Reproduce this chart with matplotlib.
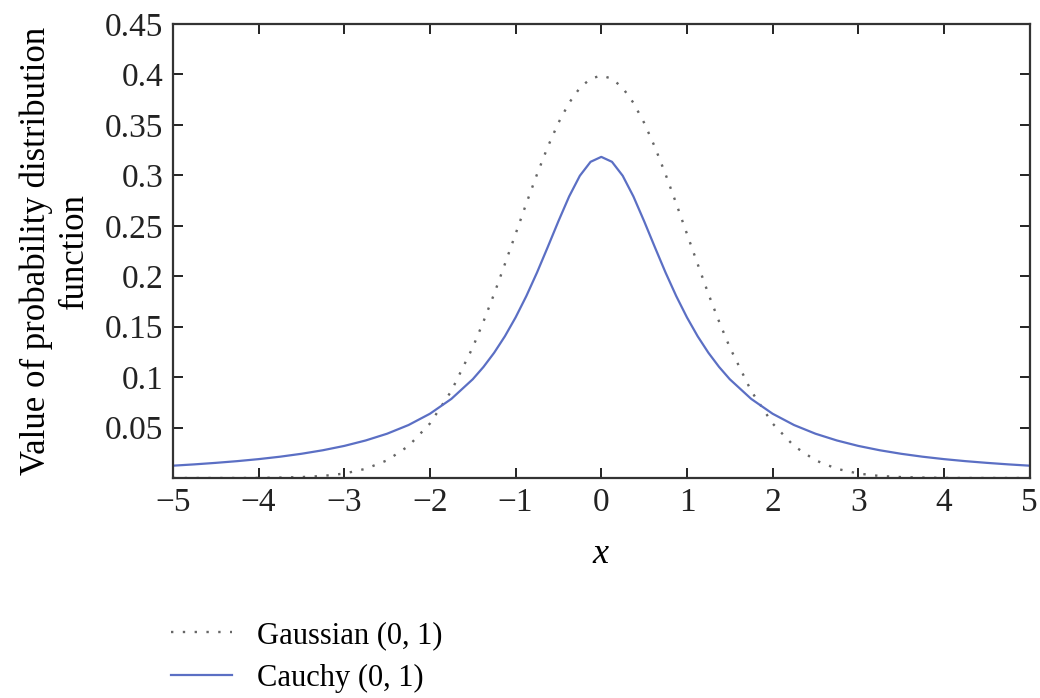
import numpy as np
import matplotlib
matplotlib.use("Agg")
import matplotlib.pyplot as plt

# values (finer steps near the peak)
x_vals = [-5.0, -4.75, -4.5, -4.25, -4.0, -3.75, -3.5, -3.25, -3.0, -2.75,
          -2.5, -2.25, -2.0, -1.75, -1.5, -1.375, -1.25, -1.125, -1.0, -0.875,
          -0.75, -0.625, -0.5, -0.375, -0.25, -0.125, 0.0, 0.125, 0.25, 0.375,
          0.5, 0.625, 0.75, 0.875, 1.0, 1.125, 1.25, 1.375, 1.5, 1.75,
          2.0, 2.25, 2.5, 2.75, 3.0, 3.25, 3.5, 3.75, 4.0, 4.25,
          4.5, 4.75, 5.0]

gauss_vals = [0.0, 0.0, 0.0, 0.0, 0.0001, 0.0004, 0.0009, 0.0020, 0.0044, 0.0091,
              0.0175, 0.0317, 0.0540, 0.0863, 0.1295, 0.1551, 0.1826, 0.2121, 0.2420, 0.2721,
              0.3011, 0.3282, 0.3521, 0.3719, 0.3867, 0.3958, 0.3989, 0.3958, 0.3867, 0.3719,
              0.3521, 0.3282, 0.3011, 0.2721, 0.2420, 0.2121, 0.1826, 0.1551, 0.1295, 0.0863,
              0.0540, 0.0317, 0.0175, 0.0091, 0.0044, 0.0020, 0.0009, 0.0004, 0.0001, 0.0,
              0.0, 0.0, 0.0]

cauchy_vals = [0.0122, 0.0135, 0.0150, 0.0167, 0.0187, 0.0211, 0.0240, 0.0275, 0.0318, 0.0372,
               0.0439, 0.0525, 0.0637, 0.0784, 0.0979, 0.1101, 0.1242, 0.1405, 0.1592, 0.1803,
               0.2037, 0.2289, 0.2546, 0.2791, 0.2996, 0.3134, 0.3183, 0.3134, 0.2996, 0.2791,
               0.2546, 0.2289, 0.2037, 0.1803, 0.1592, 0.1405, 0.1242, 0.1101, 0.0979, 0.0784,
               0.0637, 0.0525, 0.0439, 0.0372, 0.0318, 0.0275, 0.0240, 0.0211, 0.0187, 0.0167,
               0.0150, 0.0135, 0.0122]

x_ticks = [-5, -4, -3, -2, -1, 0, 1, 2, 3, 4, 5]
y_ticks = [0.05, 0.1, 0.15, 0.2, 0.25, 0.3, 0.35, 0.4, 0.45]
y_labels = ["0.05", "0.1", "0.15", "0.2", "0.25", "0.3", "0.35", "0.4", "0.45"]

plt.rcParams['font.family'] = ['Liberation Serif', 'DejaVu Serif']
plt.rcParams['mathtext.fontset'] = 'custom'
plt.rcParams['mathtext.it'] = 'Liberation Serif:italic'

fig = plt.figure(figsize=(10.4, 6.98), dpi=100)
ax = fig.add_axes([0.1663, 0.3152, 0.8237, 0.6504])

ax.plot(x_vals, gauss_vals, linestyle=(0, (1, 4)), color='#666666', linewidth=1.7,
        label='Gaussian (0, 1)')
ax.plot(x_vals, cauchy_vals, color='#5b6fc4', linewidth=1.6, label='Cauchy (0, 1)')

ax.set_xlim(-5, 5)
ax.set_ylim(0, 0.45)
ax.set_xticks(x_ticks)
ax.set_xticklabels(['\u2212' + str(-t) if t < 0 else str(t) for t in x_ticks])
ax.set_yticks(y_ticks)
ax.set_yticklabels(y_labels)

ax.tick_params(direction='in', top=True, right=True, length=7, width=1.4,
               labelsize=24, colors='#222222', pad=7)
for s in ax.spines.values():
    s.set_linewidth(1.6)
    s.set_color('#333333')

ax.set_xlabel('$x$', fontsize=26, labelpad=14)
ax.set_ylabel('Value of probability distribution\nfunction', fontsize=25,
              linespacing=1.2, labelpad=10)

fig.legend(loc='upper left', bbox_to_anchor=(0.153, 0.128), frameon=False,
           fontsize=22, handlelength=2.0, handletextpad=0.8, labelspacing=0.45,
           borderaxespad=0)

fig.savefig('out.png', dpi=100)
